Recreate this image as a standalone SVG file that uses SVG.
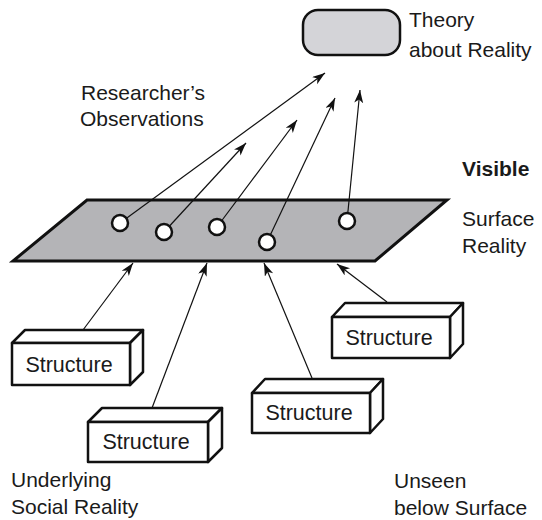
<svg xmlns="http://www.w3.org/2000/svg" width="542" height="520" viewBox="0 0 542 520">
  <defs>
    <marker id="arrow" markerUnits="userSpaceOnUse" markerWidth="14" markerHeight="10" refX="13" refY="4.5" orient="auto">
      <path d="M0,0 L13,4.5 L0,9 L3.5,4.5 z" fill="#111"/>
    </marker>
  </defs>
  <style>
    text { font-family: "Liberation Sans", Arial, sans-serif; font-size: 21px; fill: #1a1a1a; }
    .bold { font-weight: bold; }
    .conn { stroke: #111; stroke-width: 1.2; fill: none; marker-end: url(#arrow); }
    .face { fill: #fff; stroke: #111; stroke-width: 2.5; stroke-linejoin: round; }
    .obs { fill: #fff; stroke: #111; stroke-width: 2.5; }
    .lbl { text-anchor: middle; font-size: 21.5px; }
  </style>

  <rect width="542" height="520" fill="#fff"/>

  <!-- surface plane -->
  <g id="surface">
    <polygon points="87,200 447,200 375,261 13,261" fill="#b4b4b7" stroke="#111" stroke-width="3" stroke-linejoin="miter"/>
  </g>

  <!-- theory node -->
  <g id="theory">
    <rect x="303" y="10" width="97" height="45" rx="15" fill="#d4d4d8" stroke="#111" stroke-width="2.5"/>
  </g>

  <!-- connectors -->
  <g id="connectors">
    <line class="conn" x1="120" y1="223" x2="325" y2="73"/>
    <line class="conn" x1="164" y1="232" x2="246" y2="143"/>
    <line class="conn" x1="217" y1="227" x2="297" y2="120"/>
    <line class="conn" x1="267" y1="242" x2="335" y2="98"/>
    <line class="conn" x1="347" y1="221" x2="360" y2="90"/>
    <line class="conn" x1="83" y1="330" x2="133" y2="263"/>
    <line class="conn" x1="152" y1="408" x2="207" y2="263"/>
    <line class="conn" x1="312" y1="378" x2="264" y2="263"/>
    <line class="conn" x1="387" y1="302" x2="337" y2="264"/>
  </g>

  <!-- observation points -->
  <g id="observations">
    <circle class="obs" cx="120" cy="223" r="8"/>
    <circle class="obs" cx="164" cy="232" r="8"/>
    <circle class="obs" cx="217" cy="227" r="8"/>
    <circle class="obs" cx="267" cy="242" r="8"/>
    <circle class="obs" cx="347" cy="221" r="8"/>
  </g>

  <!-- structures -->
  <g id="structure1">
    <polygon class="face" points="12,343 25,330 143,330 130,343"/>
    <polygon class="face" points="130,343 143,330 143,372 130,385"/>
    <rect class="face" x="12" y="343" width="118" height="42"/>
    <text class="lbl" x="69" y="372">Structure</text>
  </g>
  <g id="structure2">
    <polygon class="face" points="88,422 102,408 222,408 208,422"/>
    <polygon class="face" points="208,422 222,408 222,448 208,462"/>
    <rect class="face" x="88" y="422" width="120" height="40"/>
    <text class="lbl" x="146" y="449">Structure</text>
  </g>
  <g id="structure3">
    <polygon class="face" points="252,393 265,379 383,379 370,393"/>
    <polygon class="face" points="370,393 383,379 383,419 370,433"/>
    <rect class="face" x="252" y="393" width="118" height="40"/>
    <text class="lbl" x="309" y="420">Structure</text>
  </g>
  <g id="structure4">
    <polygon class="face" points="332,317 345,303 463,303 450,317"/>
    <polygon class="face" points="450,317 463,303 463,344 450,358"/>
    <rect class="face" x="332" y="317" width="118" height="41"/>
    <text class="lbl" x="389" y="345">Structure</text>
  </g>

  <!-- labels -->
  <g id="labels">
    <text x="409" y="27">Theory</text>
    <text x="409" y="57">about Reality</text>
    <text x="81" y="100">Researcher’s</text>
    <text x="80" y="126">Observations</text>
    <text class="bold" x="462" y="176">Visible</text>
    <text x="462" y="226">Surface</text>
    <text x="462" y="253">Reality</text>
    <text x="11" y="487">Underlying</text>
    <text x="11" y="514">Social Reality</text>
    <text x="394" y="488">Unseen</text>
    <text x="394" y="515">below Surface</text>
  </g>
</svg>
